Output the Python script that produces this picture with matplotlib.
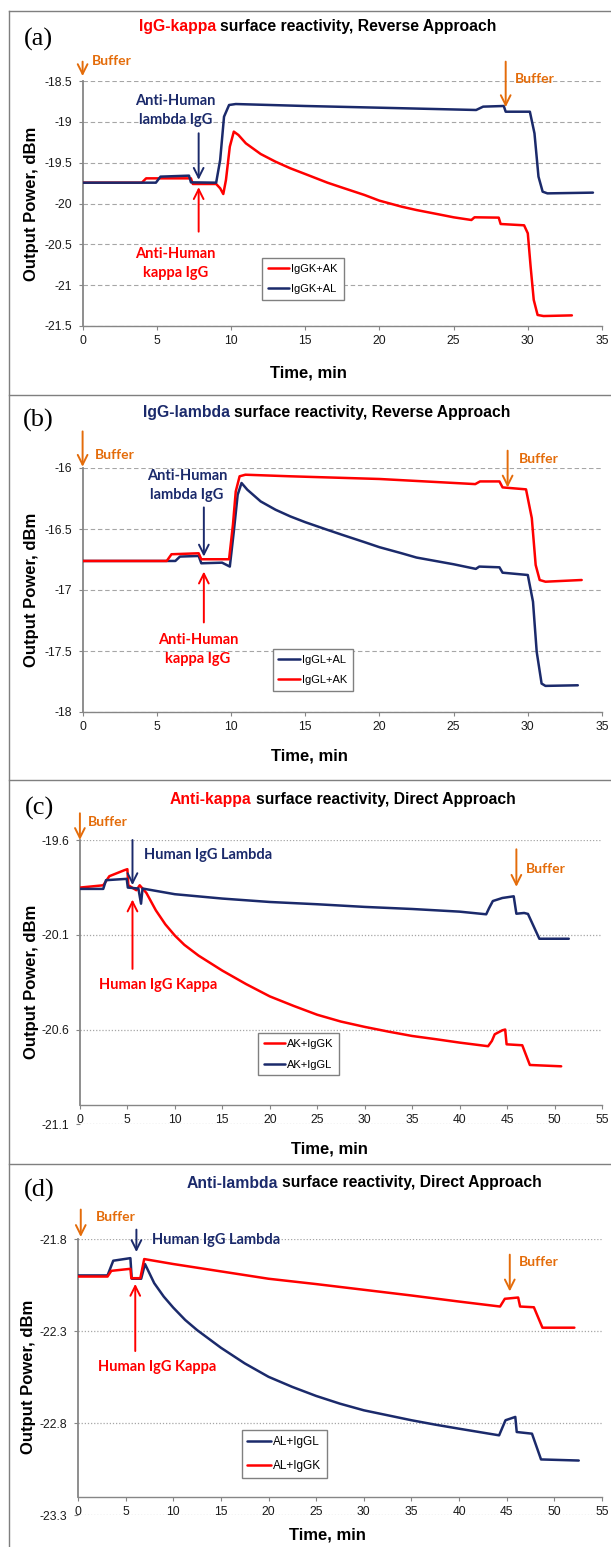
import matplotlib
matplotlib.use("Agg")
import matplotlib.pyplot as plt
from matplotlib.lines import Line2D
from matplotlib.offsetbox import TextArea, HPacker, AnnotationBbox
from matplotlib.ticker import FuncFormatter

W, H = 611, 1547
RED = '#FF0000'
NAVY = '#1B2A6B'
ORANGE = '#E46C0A'
GRID = '#A6A6A6'
SPINE = '#868686'

# ---------------- data (time in min, output power in dBm) ----------------
# (a) IgG-kappa surface, reverse approach
A_IGGK_AK_T = [0, 3.99, 4.28, 7.3, 7.43, 9.0, 9.27, 9.48, 9.66, 9.92, 10.19, 10.5, 11, 12, 13, 14, 15,
               16.5, 17.5, 19, 20, 21.5, 22.5, 24, 25, 26.2, 26.41, 28.04, 28.17, 29.75, 30.0, 30.19,
               30.4, 30.66, 31.06, 32.97]
A_IGGK_AK_V = [-19.745, -19.745, -19.692, -19.692, -19.761, -19.761, -19.814, -19.884, -19.712, -19.304,
               -19.12, -19.161, -19.263, -19.394, -19.488, -19.569, -19.639, -19.745, -19.806, -19.896,
               -19.965, -20.039, -20.08, -20.133, -20.169, -20.202, -20.169, -20.173, -20.251, -20.267,
               -20.365, -20.773, -21.18, -21.365, -21.378, -21.37]
A_IGGK_AL_T = [0, 4.94, 5.25, 7.17, 7.3, 9.0, 9.27, 9.53, 9.87, 10.32, 15, 20, 26.52, 26.99, 28.38, 28.51,
               30.14, 30.45, 30.72, 31.0, 31.32, 34.39]
A_IGGK_AL_V = [-19.745, -19.745, -19.671, -19.659, -19.741, -19.745, -19.467, -18.937, -18.794, -18.782,
               -18.806, -18.827, -18.855, -18.814, -18.806, -18.876, -18.876, -19.141, -19.671, -19.855,
               -19.876, -19.867]

# (b) IgG-lambda surface, reverse approach
B_IGGL_AL_T = [0, 6.25, 6.56, 7.82, 8.0, 9.4, 9.92, 10.19, 10.45, 10.71, 11.1, 12, 13, 14, 15, 16.5, 17.5,
               19, 20, 21.5, 22.5, 24, 25, 26.5, 26.73, 28.09, 28.3, 30.0, 30.35, 30.6, 30.93, 31.19, 33.37]
B_IGGL_AL_V = [-16.762, -16.762, -16.726, -16.721, -16.781, -16.776, -16.808, -16.52, -16.219, -16.123,
               -16.178, -16.274, -16.342, -16.397, -16.444, -16.507, -16.548, -16.608, -16.649, -16.699,
               -16.734, -16.767, -16.789, -16.827, -16.808, -16.814, -16.858, -16.877, -17.096, -17.507,
               -17.767, -17.786, -17.781]
B_IGGL_AK_T = [0, 5.67, 5.99, 7.82, 8.0, 9.87, 10.13, 10.32, 10.58, 10.97, 14, 20, 26.46, 26.78, 28.09,
               28.3, 29.88, 30.27, 30.53, 30.8, 31.19, 33.63]
B_IGGL_AK_V = [-16.762, -16.762, -16.707, -16.699, -16.748, -16.748, -16.466, -16.192, -16.068, -16.055,
               -16.068, -16.09, -16.132, -16.11, -16.11, -16.159, -16.175, -16.411, -16.795, -16.918,
               -16.932, -16.918]

# (c) Anti-kappa surface, direct approach
C_AK_IGGK_T = [0, 2.46, 3.1, 4.7, 5.0, 5.1, 5.95, 6.3, 7.0, 8.0, 9.0, 10, 11, 12.5, 15, 17.5, 20, 22.5,
               25, 27.5, 30, 32.5, 35, 37.5, 40, 43.0, 43.4, 43.7, 44.5, 44.8, 44.95, 46.6, 47.4, 50.7]
C_AK_IGGK_V = [-19.851, -19.839, -19.791, -19.759, -19.754, -19.839, -19.865, -19.839, -19.879, -19.971,
               -20.045, -20.104, -20.153, -20.21, -20.289, -20.36, -20.425, -20.475, -20.522, -20.558,
               -20.586, -20.611, -20.634, -20.651, -20.669, -20.688, -20.66, -20.625, -20.604, -20.6,
               -20.678, -20.683, -20.787, -20.794]
C_AK_IGGL_T = [0, 2.46, 2.75, 4.93, 5.05, 6.16, 6.44, 6.6, 10, 15, 20, 25, 30, 35, 40, 42.8, 43.1, 43.5,
               44.5, 45.7, 45.98, 46.8, 47.2, 48.4, 51.5]
C_AK_IGGL_V = [-19.858, -19.858, -19.812, -19.805, -19.851, -19.856, -19.936, -19.856, -19.886, -19.909,
               -19.927, -19.939, -19.953, -19.964, -19.978, -19.992, -19.96, -19.922, -19.906, -19.897,
               -19.989, -19.985, -19.99, -20.121, -20.121]

# (d) Anti-lambda surface, direct approach
D_AL_IGGL_T = [0, 3.1, 3.7, 5.5, 5.64, 6.63, 7.03, 8.0, 9.0, 10, 11.25, 12.5, 15, 17.5, 20, 22.5, 25,
               27.5, 30, 32.5, 35, 37.5, 40, 44.2, 44.87, 45.9, 46.05, 47.65, 48.6, 52.56]
D_AL_IGGL_V = [-21.998, -21.998, -21.918, -21.904, -22.016, -22.016, -21.936, -22.04, -22.113, -22.173,
               -22.24, -22.295, -22.391, -22.476, -22.549, -22.604, -22.653, -22.695, -22.731, -22.758,
               -22.785, -22.809, -22.831, -22.867, -22.785, -22.767, -22.849, -22.858, -22.998, -23.004]
D_AL_IGGK_T = [0, 3.1, 3.5, 5.5, 5.6, 6.54, 6.95, 10, 15, 20, 25, 30, 35, 40, 44.3, 44.8, 46.2, 46.4,
               47.85, 48.75, 52.1]
D_AL_IGGK_V = [-22.004, -22.004, -21.973, -21.962, -22.013, -22.013, -21.909, -21.936, -21.976, -22.016,
               -22.045, -22.076, -22.107, -22.14, -22.167, -22.125, -22.118, -22.167, -22.171, -22.282,
               -22.282]

A_YTICKS = [-21.5, -21, -20.5, -20, -19.5, -19, -18.5]
B_YTICKS = [-18, -17.5, -17, -16.5, -16]
C_YTICKS = [-21.1, -20.6, -20.1, -19.6]
D_YTICKS = [-23.3, -22.8, -22.3, -21.8]
AB_XTICKS = list(range(0, 36, 5))
CD_XTICKS = list(range(0, 56, 5))

SERIES_A = [("IgGK+AK", A_IGGK_AK_T, A_IGGK_AK_V, RED), ("IgGK+AL", A_IGGK_AL_T, A_IGGK_AL_V, NAVY)]
SERIES_B = [("IgGL+AL", B_IGGL_AL_T, B_IGGL_AL_V, NAVY), ("IgGL+AK", B_IGGL_AK_T, B_IGGL_AK_V, RED)]
SERIES_C = [("AK+IgGK", C_AK_IGGK_T, C_AK_IGGK_V, RED), ("AK+IgGL", C_AK_IGGL_T, C_AK_IGGL_V, NAVY)]
SERIES_D = [("AL+IgGL", D_AL_IGGL_T, D_AL_IGGL_V, NAVY), ("AL+IgGK", D_AL_IGGK_T, D_AL_IGGK_V, RED)]

# ---------------- figure ----------------
fig = plt.figure(figsize=(W / 100, H / 100), dpi=100)
fig.patch.set_facecolor('white')

SANS = 'Liberation Sans'
ANNOT = ['Lato', 'DejaVu Sans']


def fx(x):
    return x / W


def fy(y):
    return 1 - y / H


def make_axes(l, r, t, b):
    return fig.add_axes([fx(l), fy(b), (r - l) / W, (b - t) / H])


def style_axes(ax, xticks, yticks, xlim, ylim, gridstyle, axis_y=None):
    ax.set_xlim(*xlim)
    ax.set_ylim(*ylim)
    ax.set_xticks(xticks)
    ax.set_yticks(yticks)
    fmt = FuncFormatter(lambda v, _: f"{v:g}")
    ax.xaxis.set_major_formatter(fmt)
    ax.yaxis.set_major_formatter(fmt)
    for s in ('top', 'right'):
        ax.spines[s].set_visible(False)
    ax.spines['left'].set_color(SPINE)
    ax.spines['left'].set_linewidth(1.3)
    ax.spines['bottom'].set_color(SPINE)
    ax.spines['bottom'].set_linewidth(1.0)
    if axis_y is not None:
        ax.spines['bottom'].set_position(('data', axis_y))
        ax.spines['left'].set_bounds(axis_y, ylim[1])
    ax.tick_params(axis='both', direction='out', length=3, color=SPINE, labelsize=8.7,
                   labelcolor='#1a1a1a')
    ax.tick_params(axis='x', pad=3.5)
    ax.tick_params(axis='y', pad=4.5)
    for lab in ax.get_xticklabels() + ax.get_yticklabels():
        lab.set_family(SANS)
    for yv in yticks:
        if gridstyle == 'dashed':
            ax.axhline(yv, color=GRID, lw=0.8, ls=(0, (4, 2.5)), zorder=0)
        else:
            ax.axhline(yv, color=GRID, lw=0.9, ls=(0, (1, 1.5)), zorder=0)
    ax.set_facecolor('none')


def plot_series(ax, series, leg_anchor, fontsize, labelspacing):
    handles = []
    for name, t, v, c in series:
        h, = ax.plot(t, v, color=c, lw=1.8, solid_joinstyle='round', solid_capstyle='round',
                     zorder=3, label=name)
        handles.append(h)
    leg = ax.legend(handles=handles, loc='upper left', bbox_to_anchor=leg_anchor, borderaxespad=0,
                    prop={'family': SANS, 'size': fontsize}, frameon=True, fancybox=False,
                    edgecolor='#808080', framealpha=1, handlelength=1.95, handletextpad=0.2,
                    labelspacing=labelspacing, borderpad=0.5)
    leg.get_frame().set_linewidth(1.0)
    leg.set_zorder(5)


def labels(ax, xlab_xy, ylab_x):
    ax.set_xlabel('Time, min', family=SANS, fontsize=12, fontweight='bold')
    ax.set_ylabel('Output Power, dBm', family=SANS, fontsize=12, fontweight='bold')
    ax.xaxis.set_label_coords(*xlab_xy)
    ax.xaxis.label.set_verticalalignment('center')
    ax.yaxis.set_label_coords(ylab_x, 0.5)


def arrow(ax, x, y_tail, y_tip, color):
    ax.annotate('', xy=(x, y_tip), xytext=(x, y_tail), annotation_clip=False,
                arrowprops=dict(arrowstyle='->,head_length=0.7,head_width=0.35', color=color,
                                lw=1.4, shrinkA=0, shrinkB=0, mutation_scale=10), zorder=6)


def note(ax, x, y, s, color, ha='left', size=10.5, ls=1.45):
    ax.text(x, y, s, color=color, ha=ha, va='center', family=ANNOT, fontweight='bold',
            fontsize=size, linespacing=ls, clip_on=False, zorder=6)


def title(xpix, ypix, colored, color, rest):
    tp = dict(family=SANS, fontweight='bold', fontsize=11.3)
    ta1 = TextArea(colored, textprops=dict(color=color, **tp))
    ta2 = TextArea(rest, textprops=dict(color='black', **tp))
    box = HPacker(children=[ta1, ta2], align='baseline', pad=0, sep=3.1)
    ab = AnnotationBbox(box, (fx(xpix), fy(ypix)), xycoords='figure fraction', frameon=False,
                        box_alignment=(0.5, 0.5), pad=0)
    fig.add_artist(ab)


def panel_letter(xpix, ypix, s):
    fig.text(fx(xpix), fy(ypix), s, ha='center', va='center', family='Liberation Serif', fontsize=19)


# panel frames
for ytop in (11, 395, 780, 1164):
    fig.add_artist(Line2D([fx(8.6), fx(611)], [fy(ytop), fy(ytop)], color='#7f7f7f', lw=1.0,
                          transform=fig.transFigure))
fig.add_artist(Line2D([fx(8.6), fx(8.6)], [fy(11), fy(1547)], color='#7f7f7f', lw=1.0,
                      transform=fig.transFigure))

# ---------------- (a) ----------------
axa = make_axes(82.6, 602, 81, 326)
style_axes(axa, AB_XTICKS, A_YTICKS, (0, 35), (-21.5, -18.5), 'dashed')
plot_series(axa, SERIES_A, (0.3454, 0.2776), 8, 0.95)
labels(axa, (0.434, -0.192), -0.084)
title(317.6, 27, 'IgG-kappa', RED, 'surface reactivity, Reverse Approach')
panel_letter(38, 39, '(a)')
arrow(axa, 0.0, -18.263, -18.44, ORANGE)
note(axa, 0.6, -18.26, 'Buffer', ORANGE, size=10)
arrow(axa, 28.51, -18.263, -18.82, ORANGE)
note(axa, 29.14, -18.48, 'Buffer', ORANGE, size=10)
note(axa, 6.25, -18.863, 'Anti-Human\nlambda IgG', NAVY, ha='center')
arrow(axa, 7.82, -19.14, -19.71, NAVY)
arrow(axa, 7.82, -20.345, -19.80, RED)
note(axa, 6.25, -20.74, 'Anti-Human\nkappa IgG', RED, ha='center')

# ---------------- (b) ----------------
axb = make_axes(82.6, 602, 468, 712)
style_axes(axb, AB_XTICKS, B_YTICKS, (0, 35), (-18, -16), 'dashed')
plot_series(axb, SERIES_B, (0.3662, 0.2582), 8, 0.95)
labels(axb, (0.436, -0.179), -0.084)
title(327, 413, 'IgG-lambda', NAVY, 'surface reactivity, Reverse Approach')
panel_letter(38, 420, '(b)')
arrow(axb, 0.0, -15.70, -15.99, ORANGE)
note(axb, 0.81, -15.896, 'Buffer', ORANGE, size=10)
arrow(axb, 28.64, -15.858, -16.16, ORANGE)
note(axb, 29.4, -15.93, 'Buffer', ORANGE, size=10)
note(axb, 7.04, -16.147, 'Anti-Human\nlambda IgG', NAVY, ha='center')
arrow(axb, 8.17, -16.323, -16.726, NAVY)
arrow(axb, 8.17, -17.266, -16.849, RED)
note(axb, 7.77, -17.485, 'Anti-Human\nkappa IgG', RED, ha='center')

# ---------------- (c) ----------------
axc = make_axes(79.9, 602, 840, 1124.3)
style_axes(axc, CD_XTICKS, C_YTICKS, (0, 55), (-21.1, -19.6), 'dotted', axis_y=-21.0)
plot_series(axc, SERIES_C, (0.3411, 0.3211), 8, 1.0)
labels(axc, (0.477, -0.088), -0.0783)
title(343, 799.3, 'Anti-kappa', RED, 'surface reactivity, Direct Approach')
panel_letter(39, 808, '(c)')
arrow(axc, 0.0, -19.459, -19.6, ORANGE)
note(axc, 0.82, -19.506, 'Buffer', ORANGE, size=10)
arrow(axc, 5.54, -19.6, -19.838, NAVY)
note(axc, 6.77, -19.68, 'Human IgG Lambda', NAVY)
arrow(axc, 5.54, -20.28, -19.914, RED)
note(axc, 8.25, -20.363, 'Human IgG Kappa', RED, ha='center')
arrow(axc, 45.98, -19.649, -19.847, ORANGE)
note(axc, 47.0, -19.755, 'Buffer', ORANGE, size=10)

# ---------------- (d) ----------------
axd = make_axes(78, 602, 1239, 1515)
style_axes(axd, CD_XTICKS, D_YTICKS, (0, 55), (-23.3, -21.8), 'dotted', axis_y=-23.2)
plot_series(axd, SERIES_D, (0.3122, 0.308), 8.5, 1.0)
labels(axd, (0.476, -0.0725), -0.080)
title(364, 1183, 'Anti-lambda', NAVY, 'surface reactivity, Direct Approach')
panel_letter(39, 1190, '(d)')
arrow(axd, 0.29, -21.64, -21.789, ORANGE)
note(axd, 1.84, -21.68, 'Buffer', ORANGE, size=10)
arrow(axd, 6.13, -21.749, -21.871, NAVY)
note(axd, 7.77, -21.807, 'Human IgG Lambda', NAVY)
arrow(axd, 6.01, -22.409, -22.044, RED)
note(axd, 8.34, -22.495, 'Human IgG Kappa', RED, ha='center')
arrow(axd, 45.32, -21.885, -22.085, ORANGE)
note(axd, 46.3, -21.925, 'Buffer', ORANGE, size=10)

fig.savefig('out.png', dpi=100, facecolor='white')
